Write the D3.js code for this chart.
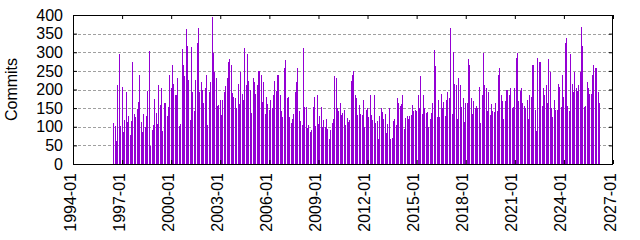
<!DOCTYPE html>
<html>
  <head>
    <meta charset="utf-8">
    <style>
      body { margin: 0; background: #fff; }
      text { font-family: "Liberation Sans", Arial, sans-serif; font-size: 16px; fill: #000; }
    </style>
  </head>
  <body>
    <script src="https://cdn.jsdelivr.net/npm/d3@7"></script>
    <script>
    // monthly commit counts, first bar is 1996-07
    var startMonth = "1996-07";
    var commits = [
      110,103,62,213,294,101,206,85,119,193,114,128,77,116,275,135,125,148,166,240,114,86,135,100,128,195,304,49,92,105,174,138,107,213,158,203,89,165,165,130,152,240,
      204,265,216,186,186,230,101,108,308,265,235,362,316,225,119,313,194,143,225,324,365,192,219,200,164,203,238,105,194,221,394,297,246,230,155,159,173,132,173,192,210,231,273,281,265,191,180,
      178,151,216,162,246,189,173,311,213,294,224,200,138,230,221,189,213,251,251,240,167,219,135,181,160,146,173,149,184,224,197,240,240,184,143,127,257,278,178,181,127,111,122,135,192,221,259,
      143,116,105,311,154,154,97,105,86,92,154,181,103,186,108,130,154,100,119,100,122,95,68,92,110,122,235,232,149,143,165,132,138,146,105,124,113,119,224,238,251,186,176,132,159,135,132,
      173,100,146,149,127,186,132,119,184,111,116,68,130,151,140,122,135,84,108,151,68,70,116,120,105,176,165,157,162,186,95,124,130,122,128,132,159,143,146,143,184,149,235,135,186,149,138,
      140,100,122,138,165,305,262,127,173,127,189,151,167,130,173,194,176,365,135,302,216,213,122,230,211,154,176,113,165,165,281,267,178,135,170,149,157,149,208,111,184,297,211,204,143,192,132,
      162,143,140,165,143,238,259,186,170,122,170,200,200,184,203,151,154,203,284,297,170,197,205,165,157,149,173,122,184,181,265,265,146,89,284,273,273,157,203,186,211,165,281,248,149,127,173,
      146,146,216,208,154,238,181,324,338,157,143,294,216,194,246,205,197,213,246,367,316,154,157,221,203,189,189,240,265,259,259,194,165
    ];
    var yTicks = [0, 50, 100, 150, 200, 250, 300, 350, 400];
    var xTickYears = [1994, 1997, 2000, 2003, 2006, 2009, 2012, 2015, 2018, 2021, 2024, 2027];

    var margin = { top: 15, right: 27, bottom: 76, left: 73 },
        width = 640 - margin.left - margin.right,
        height = 240 - margin.top - margin.bottom;

    var parseMonth = d3.timeParse("%Y-%m");
    var first = parseMonth(startMonth);
    var data = commits.map(function (v, i) {
      return { date: d3.timeMonth.offset(first, i), value: v };
    });

    var svg = d3.select("body")
                .append("svg")
                  .attr("width", 640)
                  .attr("height", 240)
                .append("g")
                  .attr("transform", "translate(" + margin.left + "," + margin.top + ")");

    var xScale = d3.scaleTime()
                   .domain([new Date(1994, 0, 1), new Date(2027, 0, 1)])
                   .range([0, width]);
    var yScale = d3.scaleLinear()
                   .domain([0, 400])
                   .range([height, 0]);

    // dashed grid
    svg.append("g")
      .selectAll("line")
      .data(yTicks.filter(function (d) { return d > 0 && d < 400; }))
      .enter().append("line")
        .attr("x1", 0)
        .attr("x2", width)
        .attr("y1", function (d) { return Math.round(yScale(d)) + 0.5; })
        .attr("y2", function (d) { return Math.round(yScale(d)) + 0.5; })
        .attr("stroke", "#a0a0a0")
        .attr("stroke-dasharray", "3,2");

    svg.append("g")
      .selectAll("rect")
      .data(data)
      .enter().append("rect")
        .attr("x", function (d) { return xScale(d.date) - 0.5; })
        .attr("width", 1)
        .attr("y", function (d) { return yScale(d.value); })
        .attr("height", function (d) { return height - yScale(d.value); })
        .attr("fill", "#9400d3")
        .attr("shape-rendering", "crispEdges");

    var xTicks = xTickYears.map(function (y) { return new Date(y, 0, 1); });

    // axes with inward ticks, gnuplot style
    var xAxis = svg.append("g")
      .attr("transform", "translate(0," + height + ")")
      .call(d3.axisBottom(xScale).tickValues(xTicks).tickSizeInner(-4).tickSizeOuter(0).tickFormat(d3.timeFormat("%Y-%m")));
    xAxis.select(".domain").remove();
    xAxis.selectAll("text")
      .attr("transform", "translate(2,9) rotate(-90)")
      .attr("text-anchor", "end")
      .attr("x", 0).attr("y", 0).attr("dy", 0)
      .style("font-size", "16px");

    svg.append("g")
      .call(d3.axisTop(xScale).tickValues(xTicks).tickSizeInner(-4).tickSizeOuter(0).tickFormat(""))
      .select(".domain").remove();

    var yAxis = svg.append("g")
      .call(d3.axisLeft(yScale).tickValues(yTicks).tickSizeInner(-4).tickSizeOuter(0).tickPadding(10));
    yAxis.select(".domain").remove();
    yAxis.selectAll("text").style("font-size", "16px");

    svg.append("g")
      .attr("transform", "translate(" + width + ",0)")
      .call(d3.axisRight(yScale).tickValues(yTicks).tickSizeInner(-4).tickSizeOuter(0).tickFormat(""))
      .select(".domain").remove();

    svg.append("rect")
      .attr("x", 0.5).attr("y", 0.5)
      .attr("width", width - 1).attr("height", height)
      .attr("fill", "none")
      .attr("stroke", "#000");

    svg.append("text")
      .attr("transform", "translate(" + (17 - margin.left) + "," + (height / 2) + ") rotate(-90)")
      .attr("text-anchor", "middle")
      .text("Commits");
    </script>
  </body>
</html>
